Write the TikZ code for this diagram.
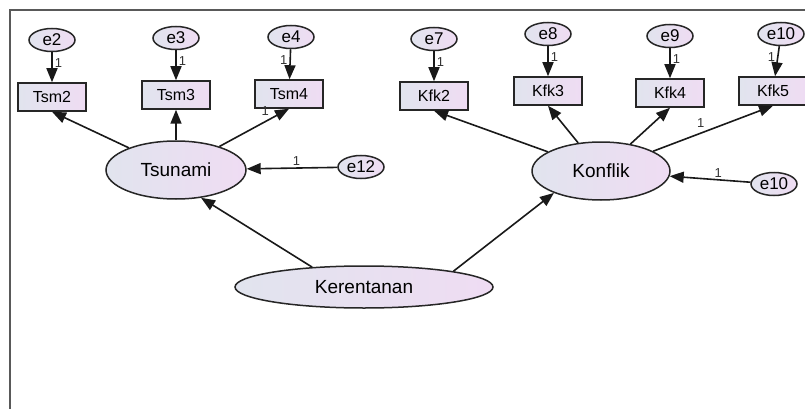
\documentclass[tikz,border=0pt]{standalone}
\usepackage{fontspec}
\setmainfont{Liberation Sans}
\usetikzlibrary{
	arrows.meta,
	positioning,
	shapes,
	}
\definecolor{amosleft}{HTML}{E1E4EE}
\definecolor{amosright}{HTML}{EFDCF3}
\tikzset{
	obs/.style={draw=black!85, line width=1.5pt, left color=amosleft, right color=amosright, minimum width=68pt, minimum height=28pt, inner sep=0pt, font=\fontsize{16}{18}\selectfont},
	err/.style={ellipse, draw=black!85, line width=1.5pt, left color=amosleft, right color=amosright, minimum width=46pt, minimum height=23pt, inner sep=0pt, font=\fontsize{17}{18}\selectfont},
	lat/.style={ellipse, draw=black!85, line width=1.5pt, left color=amosleft, right color=amosright, inner sep=0pt, font=\fontsize{19}{22}\selectfont},
	load/.style={-{Triangle[length=14pt,width=11pt]}, line width=1.6pt, black!90},
	one/.style={font=\fontsize{13}{14}\selectfont, inner sep=2pt, black!80},
	}

\begin{document}
\begin{tikzpicture}[x=1pt, y=-1pt, node distance={30pt}]
	\useasboundingbox (0,0) rectangle (805,409);
	\draw[black!65, line width=1.8pt] (10,409) -- (10,10) -- (805,10);

	\node[obs] at (52,97) (tsm2) {Tsm2};
	\node[obs] at (176,95) (tsm3) {Tsm3};
	\node[obs] at (289,94) (tsm4) {Tsm4};
	\node[obs] at (434,96) (kfk2) {Kfk2};
	\node[obs] at (548,91) (kfk3) {Kfk3};
	\node[obs] at (670,93) (kfk4) {Kfk4};
	\node[obs] at (773,91) (kfk5) {Kfk5};

	\node[err, above=of tsm2] (e2) {e2};
	\node[err, above=of tsm3] (e3) {e3};
	\node[err, above=of tsm4, xshift=2pt] (e4) {e4};
	\node[err, above=of kfk2] (e7) {e7};
	\node[err, above=of kfk3] (e8) {e8};
	\node[err, above=of kfk4] (e9) {e9};
	\node[err, above=of kfk5, xshift=8pt] (e10) {e10};

	\node[lat, minimum width=140pt, minimum height=58pt] at (176,170) (tsunami) {Tsunami};
	\node[lat, minimum width=138pt, minimum height=58pt] at (601,171) (konflik) {Konflik};
	\node[lat, minimum width=258pt, minimum height=42pt] at (364,287) (kerentanan) {Kerentanan};
	\node[err] at (361,167) (e12) {e12};
	\node[err] at (774,184) (e10b) {e10};

	\draw[load] (e2) -- node[one, right, pos=0.35] {1} (tsm2);
	\draw[load] (e3) -- node[one, right, pos=0.35] {1} (tsm3);
	\draw[load] (e4) -- node[one, left, pos=0.35] {1} (tsm4);
	\draw[load] (e7) -- node[one, right, pos=0.35] {1} (kfk2);
	\draw[load] (e8) -- node[one, right, pos=0.35] {1} (kfk3);
	\draw[load] (e9) -- node[one, right, pos=0.35] {1} (kfk4);
	\draw[load] (e10) -- node[one, left, pos=0.35] {1} (kfk5);

	\draw[load] (tsunami) -- (tsm2.south);
	\draw[load] (tsunami) -- (tsm3);
	\draw[load] (tsunami) -- node[one, above left, pos=0.75] {1} (tsm4.south);
	\draw[load] (konflik) -- (kfk2.south);
	\draw[load] (konflik) -- (kfk3.south);
	\draw[load] (konflik) -- (kfk4.south);
	\draw[load] (konflik) -- node[one, above left, pos=0.45] {1} (kfk5.south);

	\draw[load] (e12) -- node[one, above, pos=0.45] {1} (tsunami);
	\draw[load] (e10b) -- node[one, above, pos=0.4] {1} (konflik);
	\draw[load] (kerentanan.159) -- (tsunami.-48);
	\draw[load] (kerentanan.10) -- (konflik.205);
\end{tikzpicture}
\end{document}
